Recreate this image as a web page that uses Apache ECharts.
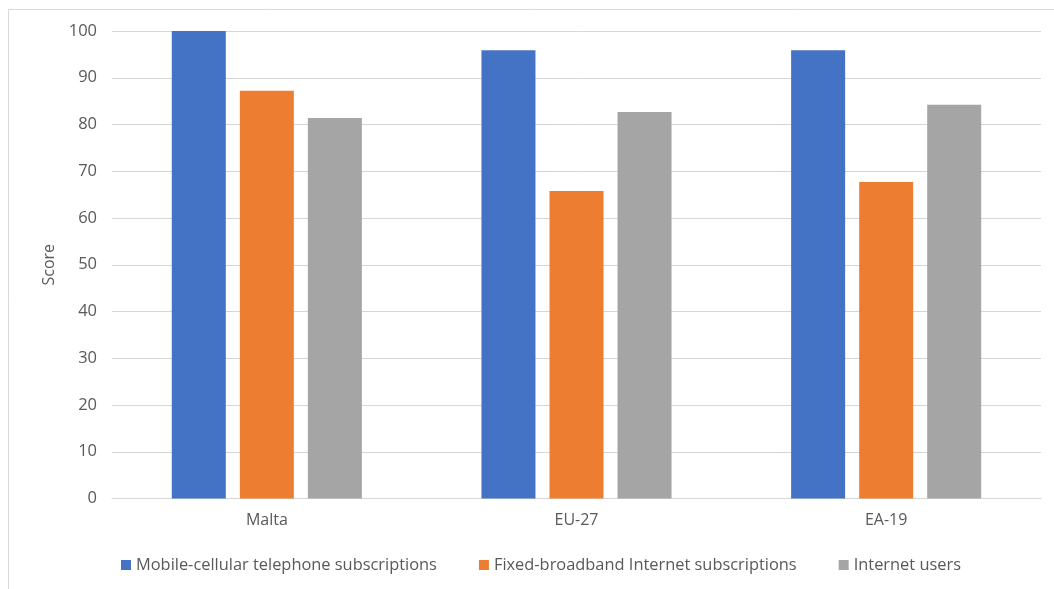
<!DOCTYPE html>
<html>
<head>
<meta charset="utf-8">
<script src="https://cdn.jsdelivr.net/npm/echarts@6/dist/echarts.min.js"></script>
<style>
  html, body { margin: 0; padding: 0; background: #fff; }
  #chart { width: 1054px; height: 589px; }
</style>
</head>
<body>
<div id="chart"></div>
<script>
// Regions compared
const categories = ['Malta', 'EU-27', 'EA-19'];

// Scores per indicator
const seriesNames = [
  'Mobile-cellular telephone subscriptions',
  'Fixed-broadband Internet subscriptions',
  'Internet users'
];
const mobileCellular = [100, 95.9, 95.9];
const fixedBroadband = [87.2, 65.8, 67.7];
const internetUsers = [81.4, 82.7, 84.2];

const colors = ['#4472C4', '#ED7D31', '#A5A5A5'];
const font = '"Open Sans", "Noto Sans", sans-serif';
const textColor = '#595959';
const gridColor = '#D6D6D6';

const chart = echarts.init(document.getElementById('chart'), null, { renderer: 'canvas' });

const values = [mobileCellular, fixedBroadband, internetUsers];

chart.setOption({
  animation: false,
  backgroundColor: '#fff',
  color: colors,
  textStyle: { fontFamily: font },
  graphic: [
    // chart-area frame (top and left edges)
    { type: 'line', shape: { x1: 8.5, y1: 9.5, x2: 1054, y2: 9.5 }, style: { stroke: '#D9D9D9', lineWidth: 1 } },
    { type: 'line', shape: { x1: 8.5, y1: 9.5, x2: 8.5, y2: 589 }, style: { stroke: '#D9D9D9', lineWidth: 1 } }
  ],
  grid: { left: 112, right: 13, top: 31, bottom: 90.5, containLabel: false },
  legend: {
    data: seriesNames,
    left: 116,
    top: 552,
    itemWidth: 10,
    itemHeight: 10,
    itemGap: 42,
    icon: 'rect',
    textStyle: { color: textColor, fontSize: 16.4, fontFamily: font }
  },
  xAxis: {
    type: 'category',
    data: categories,
    axisLine: { show: true, lineStyle: { color: gridColor, width: 1 } },
    axisTick: { show: false },
    axisLabel: { color: textColor, fontSize: 16, margin: 14, fontFamily: font }
  },
  yAxis: {
    type: 'value',
    min: 0,
    max: 100,
    interval: 10,
    name: 'Score',
    nameLocation: 'middle',
    nameGap: 55,
    nameRotate: 90,
    nameTextStyle: { color: textColor, fontSize: 16, fontFamily: font },
    axisLine: { show: false },
    axisTick: { show: false },
    axisLabel: { color: textColor, fontSize: 16.5, margin: 15, fontFamily: font },
    splitLine: { lineStyle: { color: gridColor, width: 1 } }
  },
  series: seriesNames.map((name, i) => ({
    name,
    type: 'bar',
    data: values[i],
    barWidth: 54,
    barGap: '26%',
    itemStyle: { color: colors[i] }
  }))
});
</script>
</body>
</html>
